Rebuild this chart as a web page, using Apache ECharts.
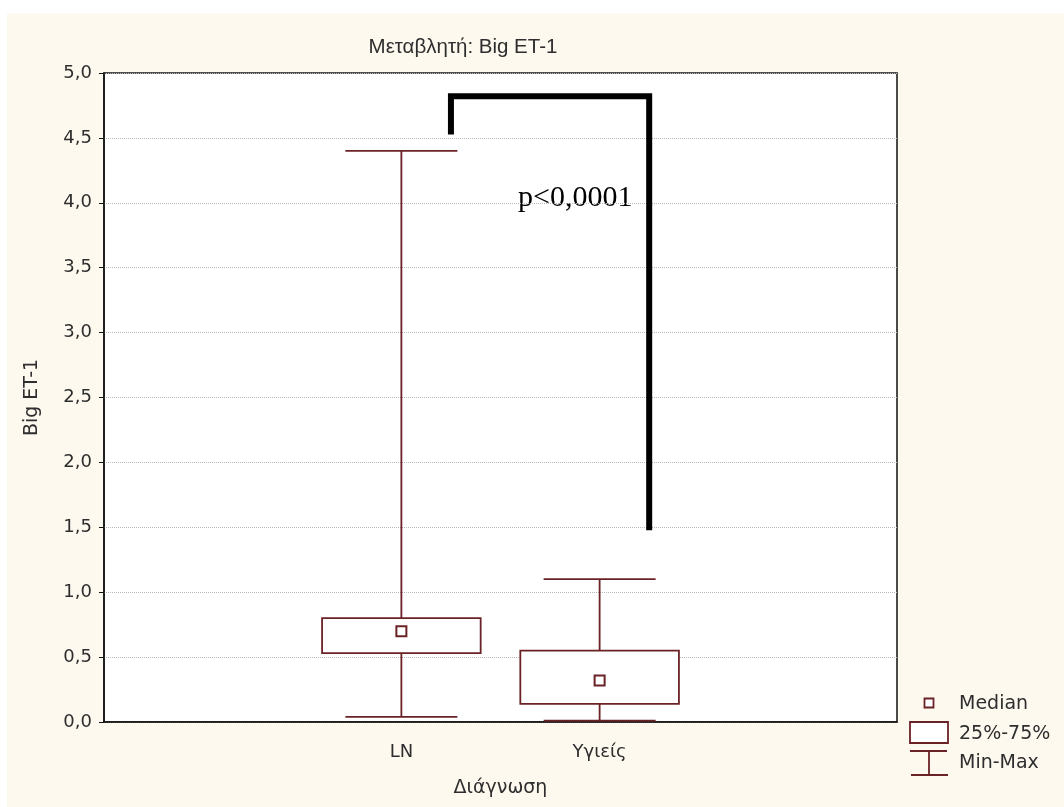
<!DOCTYPE html>
<html>
<head>
<meta charset="utf-8">
<script src="https://cdn.jsdelivr.net/npm/echarts@6/dist/echarts.min.js"></script>
<style>
  html, body { margin: 0; padding: 0; background: #ffffff; }
  #frame { position: absolute; left: 7px; top: 13px; right: 0; bottom: 0; background: #fdf9ef; }
  #chart { position: absolute; left: 0; top: 0; width: 1064px; height: 807px; }
</style>
</head>
<body>
<div id="frame"></div>
<div id="chart"></div>
<script>
// Diagnosis groups (outer blank slots keep the axis padding on both sides)
const categories = ['', 'LN', 'Υγιείς', ''];
const groupIndex = [1, 2];

// Box statistics per group: LN, Υγιείς
const minValues    = [0.04, 0.01];
const q1Values     = [0.53, 0.14];
const medianValues = [0.70, 0.32];
const q3Values     = [0.80, 0.55];
const maxValues    = [4.40, 1.10];

// Significance bracket between the groups
const bracketX = [1.25, 1.25, 2.25, 2.25];
const bracketY = [4.55, 4.82, 4.82, 1.50];
const pText = 'p<0,0001';

// Value axis ticks
const yMin = 0, yMax = 5, yStep = 0.5;

const boxColor = '#6b2226';
const textColor = '#2e2e2e';
const uiFont = 'DejaVu Sans';
const titleFont = 'Liberation Sans';

const boxData = groupIndex.map((c, i) =>
  [c, minValues[i], q1Values[i], medianValues[i], q3Values[i], maxValues[i]]);

function renderBox(params, api) {
  const cat = api.value(0);
  const band = api.size([1, 0])[0];
  const cx = api.coord([cat, 0])[0];
  const yMinP = api.coord([cat, api.value(1)])[1];
  const yQ1 = api.coord([cat, api.value(2)])[1];
  const yMed = api.coord([cat, api.value(3)])[1];
  const yQ3 = api.coord([cat, api.value(4)])[1];
  const yMaxP = api.coord([cat, api.value(5)])[1];
  const boxW = band * 0.80;
  const capW = band * 0.565;
  const lineStyle = { stroke: boxColor, lineWidth: 1.8, fill: null };
  const m = 5;
  return {
    type: 'group',
    children: [
      { type: 'line', shape: { x1: cx, y1: yMaxP, x2: cx, y2: yQ3 }, style: lineStyle },
      { type: 'line', shape: { x1: cx, y1: yQ1, x2: cx, y2: yMinP }, style: lineStyle },
      { type: 'line', shape: { x1: cx - capW / 2, y1: yMaxP, x2: cx + capW / 2, y2: yMaxP }, style: lineStyle },
      { type: 'line', shape: { x1: cx - capW / 2, y1: yMinP, x2: cx + capW / 2, y2: yMinP }, style: lineStyle },
      { type: 'rect', shape: { x: cx - boxW / 2, y: yQ3, width: boxW, height: yQ1 - yQ3 },
        style: { stroke: boxColor, lineWidth: 1.8, fill: '#ffffff' } },
      { type: 'rect', shape: { x: cx - m, y: yMed - m, width: 2 * m, height: 2 * m },
        style: { stroke: boxColor, lineWidth: 2, fill: '#ffffff' } }
    ]
  };
}

const chart = echarts.init(document.getElementById('chart'), null, { renderer: 'canvas' });

// Legend glyphs (bottom right) and the significance note
const lx = 929;
const legendFont = '19px "' + uiFont + '"';
const overlayGraphics = [
  { type: 'rect', shape: { x: lx - 4.5, y: 698.5, width: 9, height: 9 },
    style: { stroke: boxColor, lineWidth: 1.8, fill: '#ffffff' } },
  { type: 'text', style: { text: 'Median', x: 959, y: 704, fill: textColor,
    font: legendFont, textVerticalAlign: 'middle' } },
  { type: 'rect', shape: { x: 910, y: 722, width: 38, height: 21 },
    style: { stroke: boxColor, lineWidth: 1.8, fill: '#ffffff' } },
  { type: 'text', style: { text: '25%-75%', x: 959, y: 734, fill: textColor,
    font: legendFont, textVerticalAlign: 'middle' } },
  { type: 'line', shape: { x1: 910, y1: 751, x2: 947, y2: 751 }, style: { stroke: boxColor, lineWidth: 1.8 } },
  { type: 'line', shape: { x1: lx, y1: 751, x2: lx, y2: 775 }, style: { stroke: boxColor, lineWidth: 1.8 } },
  { type: 'line', shape: { x1: 911, y1: 775, x2: 948, y2: 775 }, style: { stroke: boxColor, lineWidth: 1.8 } },
  { type: 'text', style: { text: 'Min-Max', x: 959, y: 763, fill: textColor,
    font: legendFont, textVerticalAlign: 'middle' } },
  { type: 'text', style: { text: pText, x: 518, y: 198, fill: '#000000',
    font: '30px "Liberation Serif"', textVerticalAlign: 'middle' } }
];

chart.setOption({
  animation: false,
  backgroundColor: 'transparent',
  title: {
    text: 'Μεταβλητή: Big ET-1',
    left: 458, top: 32, textAlign: 'center',
    textStyle: { color: textColor, fontSize: 20.5, fontWeight: 'normal', fontFamily: titleFont }
  },
  grid: {
    left: 104, right: 167, top: 73, bottom: 85,
    show: true, backgroundColor: '#ffffff', borderColor: '#111111', borderWidth: 1.5
  },
  xAxis: [
    {
      type: 'category', data: categories, boundaryGap: true,
      name: 'Διάγνωση', nameLocation: 'middle', nameGap: 57,
      nameTextStyle: { color: textColor, fontSize: 19, fontFamily: uiFont },
      axisLine: { onZero: false, lineStyle: { color: '#111111', width: 1.5 } },
      axisTick: { inside: true, alignWithLabel: true, length: 5, lineStyle: { color: '#111111' } },
      axisLabel: { color: textColor, fontSize: 18, fontFamily: uiFont, margin: 21, interval: 0 },
      splitLine: { show: false }
    },
    {
      type: 'category', data: categories, position: 'top', boundaryGap: true,
      axisLine: { show: false, onZero: false },
      axisTick: { inside: true, alignWithLabel: true, length: 5, lineStyle: { color: '#111111' } },
      axisLabel: { show: false }, splitLine: { show: false }
    },
    { type: 'value', min: -0.5, max: 3.5, show: false, axisLine: { onZero: false } }
  ],
  yAxis: {
    type: 'value', min: yMin, max: yMax, interval: yStep, position: 'left',
    name: 'Big ET-1', nameLocation: 'middle', nameGap: 62,
    nameTextStyle: { color: textColor, fontSize: 19, fontFamily: uiFont },
    axisLine: { show: true, onZero: false, lineStyle: { color: '#111111', width: 1.5 } },
    axisTick: { show: true, length: 5, lineStyle: { color: '#111111' } },
    axisLabel: {
      color: textColor, fontSize: 18, fontFamily: uiFont, margin: 12,
      formatter: v => v.toFixed(1).replace('.', ',')
    },
    splitLine: { show: true, lineStyle: { color: '#b8b8b8', type: 'dotted', width: 1 } }
  },
  series: [
    {
      type: 'custom', xAxisIndex: 0, renderItem: renderBox,
      encode: { x: 0, y: [1, 2, 3, 4, 5] }, data: boxData, z: 3
    },
    {
      type: 'line', xAxisIndex: 2, symbol: 'none', z: 4,
      lineStyle: { color: '#000000', width: 6, cap: 'square', join: 'miter' },
      data: bracketX.map((x, i) => [x, bracketY[i]])
    }
  ],
  graphic: overlayGraphics
});
</script>
</body>
</html>
